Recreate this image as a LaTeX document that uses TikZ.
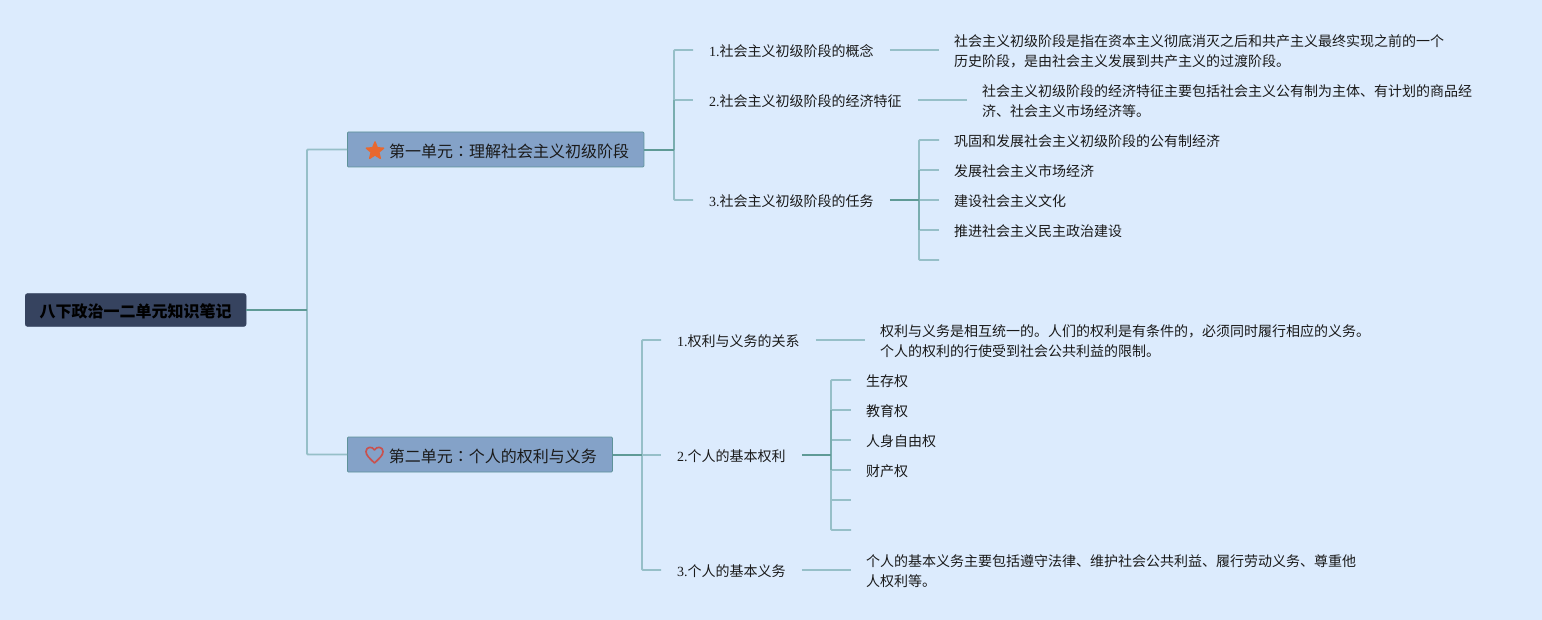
\documentclass[tikz,border=0pt]{standalone}
\usepackage{fontspec}
\setmainfont{Liberation Serif}
\newfontfamily\cjk{Noto Sans CJK SC}
\newfontfamily\cjktc{Noto Sans CJK TC}
\newfontfamily\lat{Liberation Serif}
\usetikzlibrary{shapes.geometric}
\definecolor{bgc}{HTML}{DCEBFD}
\definecolor{lightl}{HTML}{96BFC8}
\definecolor{midl}{HTML}{79ADAF}
\definecolor{darkl}{HTML}{5F9A96}
\definecolor{unitf}{HTML}{84A2C8}
\definecolor{unitb}{HTML}{5E9299}
\definecolor{rootf}{HTML}{36435F}
\definecolor{inkc}{HTML}{1A1A1A}
\definecolor{starc}{HTML}{E8682F}
\definecolor{heartc}{HTML}{C8524F}
\tikzset{
  rootbox/.style={draw=rootf,fill=rootf,rounded corners=2.5pt,minimum width=221pt,minimum height=33pt,inner sep=0pt,text height=15pt,text depth=0pt,anchor=west,font=\cjk\bfseries\fontsize{16pt}{20pt}\selectfont,text=black},
  unitbox/.style={draw=unitb,line width=.8pt,fill=unitf,rounded corners=1pt,minimum height=35pt,inner sep=0pt,text height=16pt,text depth=0pt,anchor=west,font=\cjk\fontsize{16pt}{20pt}\selectfont,text=inkc},
  topic/.style={inner xsep=16pt,inner ysep=0pt,text height=13pt,text depth=0pt,anchor=west,font=\cjk\fontsize{14pt}{20pt}\selectfont,text=inkc},
  leaf/.style={inner xsep=15pt,inner ysep=0pt,text height=13pt,text depth=0pt,anchor=west,font=\cjk\fontsize{14pt}{20pt}\selectfont,text=inkc},
  para/.style={inner xsep=15pt,inner ysep=0pt,anchor=west,align=left,font=\cjk\fontsize{14pt}{20pt}\selectfont,text=inkc},
  thin line/.style={draw=lightl,line width=1.8pt},
  mid line/.style={draw=midl,line width=1.8pt},
  dark line/.style={draw=darkl,line width=2.2pt},
}
\newcommand{\tccolon}{{\cjktc ：}}
\begin{document}
\begin{tikzpicture}[x=1pt,y=-1pt]
\useasboundingbox[fill=bgc] (0,0) rectangle (1542,620);
% nodes
\node[rootbox] (root) at (25,310) {八下政治一二单元知识笔记};
\node[unitbox,minimum width=296.5pt] (u1) at (347,149.5) {\hspace*{41.5pt}第一单元\tccolon 理解社会主义初级阶段\hspace*{14.5pt}};
\node[unitbox,minimum width=265pt] (u2) at (347,454.5) {\hspace*{41.5pt}第二单元\tccolon 个人的权利与义务\hspace*{15.5pt}};
\node[star,star points=5,star point ratio=2.3,fill=starc,draw=starc,line width=1.5pt,line join=round,minimum size=18pt,inner sep=0pt] (staricon) at (375,151) {};
% first unit
\node[topic] (a1) at (693,50) {\lat 1.\cjk 社会主义初级阶段的概念};
\node[topic] (a2) at (693,100) {\lat 2.\cjk 社会主义初级阶段的经济特征};
\node[topic] (a3) at (693,200) {\lat 3.\cjk 社会主义初级阶段的任务};
\node[para] (a1l) at (939,51.3) {社会主义初级阶段是指在资本主义彻底消灭之后和共产主义最终实现之前的一个\\历史阶段，是由社会主义发展到共产主义的过渡阶段。};
\node[para] (a2l) at (967,101.3) {社会主义初级阶段的经济特征主要包括社会主义公有制为主体、有计划的商品经\\济、社会主义市场经济等。};
\node[leaf] (t1) at (939,140) {巩固和发展社会主义初级阶段的公有制经济};
\node[leaf] (t2) at (939,170) {发展社会主义市场经济};
\node[leaf] (t3) at (939,200) {建设社会主义文化};
\node[leaf] (t4) at (939,230) {推进社会主义民主政治建设};
\coordinate (t5) at (939,260);
% second unit
\node[topic] (b1) at (661,340) {\lat 1.\cjk 权利与义务的关系};
\node[topic] (b2) at (661,455) {\lat 2.\cjk 个人的基本权利};
\node[topic] (b3) at (661,570) {\lat 3.\cjk 个人的基本义务};
\node[para] (b1l) at (865,341.3) {权利与义务是相互统一的。人们的权利是有条件的，必须同时履行相应的义务。\\个人的权利的行使受到社会公共利益的限制。};
\node[leaf] (r1) at (851,380) {生存权};
\node[leaf] (r2) at (851,410) {教育权};
\node[leaf] (r3) at (851,440) {人身自由权};
\node[leaf] (r4) at (851,470) {财产权};
\coordinate (r5) at (851,500);
\coordinate (r6) at (851,530);
\node[para] (b3l) at (851,571.3) {个人的基本义务主要包括遵守法律、维护社会公共利益、履行劳动义务、尊重他\\人权利等。};
% junctions
\coordinate (j0) at (307,310);
\coordinate (j1) at (674,150);
\coordinate (j2) at (642,455);
\coordinate (j3) at (919,200);
\coordinate (j4) at (831,455);
% connectors: level 1
\draw[thin line,rounded corners=1pt] (u1.west) -| (j0) |- (u2.west);
\draw[dark line] (root.east) -- (j0);
% first unit
\draw[thin line,rounded corners=1pt] (a1.west) -| (j1) |- (a3.west);
\draw[thin line] (j1 |- a2.west) -- (a2.west);
\draw[mid line] (j1 |- a2.west) -- (j1);
\draw[dark line] (u1.east |- j1) -- (j1);
\draw[thin line] (a1.east) -- (a1.east -| a1l.west);
\draw[thin line] (a2.east) -- (a2.east -| a2l.west);
\draw[thin line,rounded corners=1pt] (t1.west) -| (j3) |- (t5);
\draw[thin line] (j3 |- t2.west) -- (t2.west);
\draw[thin line] (j3) -- (t3.west);
\draw[thin line] (j3 |- t4.west) -- (t4.west);
\draw[mid line] (j3 |- t2.west) -- (j3 |- t4.west);
\draw[dark line] (a3.east) -- (j3);
% second unit
\draw[thin line,rounded corners=1pt] (b1.west) -| (j2) |- (b3.west);
\draw[thin line] (j2) -- (b2.west);
\draw[dark line] (u2.east |- j2) -- (j2);
\draw[thin line] (b1.east) -- (b1.east -| b1l.west);
\draw[thin line] (b3.east) -- (b3.east -| b3l.west);
\draw[thin line,rounded corners=1pt] (r1.west) -| (j4) |- (r6);
\draw[thin line] (j4 |- r2.west) -- (r2.west);
\draw[thin line] (j4 |- r3.west) -- (r3.west);
\draw[thin line] (j4 |- r4.west) -- (r4.west);
\draw[thin line] (j4 |- r5) -- (r5);
\draw[mid line] (j4 |- r2.west) -- (j4 |- r4.west);
\draw[dark line] (b2.east) -- (j4);
% heart icon
\draw[draw=heartc,line width=1.7pt,line join=round]
  (374.5,463) .. controls (369.5,458) and (366,455.5) .. (366,451.5)
  .. controls (366,446.5) and (372.5,446) .. (374.5,450)
  .. controls (376.5,446) and (383,446.5) .. (383,451.5)
  .. controls (383,455.5) and (379.5,458) .. (374.5,463) -- cycle;
\end{tikzpicture}
\end{document}
